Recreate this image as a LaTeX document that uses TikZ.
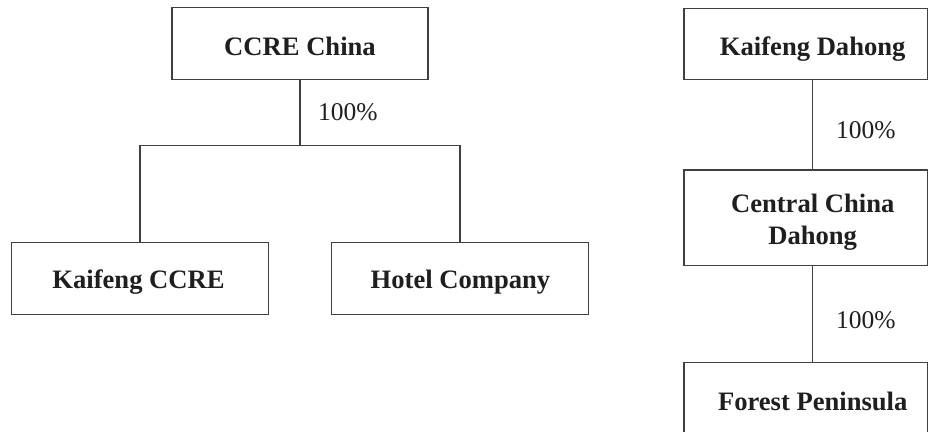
\documentclass[tikz,border=0pt]{standalone}
\usepackage{fontspec}
\setmainfont{Liberation Serif}
\begin{document}
\begin{tikzpicture}[x=1pt,y=-1pt,
  box/.style={draw=black!75, line width=1.1pt, rectangle, inner sep=0pt},
  bt/.style={font=\fontsize{26.6}{31.7}\selectfont\bfseries, text=black!88, align=center, inner sep=0pt},
  pct/.style={font=\fontsize{25.5}{30}\selectfont, text=black!88, anchor=base west, inner sep=0pt},
  link/.style={draw=black!75, line width=1.1pt}]
\useasboundingbox (0,0) rectangle (928,431);
\clip (0,0) rectangle (928,431);
\fill[white] (0,0) rectangle (928,431);

% left group
\node[box, minimum width=256, minimum height=72] (ccre) at (300,43.5) {};
\node[bt, anchor=base] (ccret) at (300,55) {CCRE China};
\node[box, minimum width=256.6, minimum height=71.7] (kccre) at (140,278.2) {};
\node[bt, anchor=base] (kccret) at (138.5,288) {Kaifeng CCRE};
\node[box, minimum width=256.6, minimum height=71.7] (hotel) at (460,278.2) {};
\node[bt, anchor=base] (hotelt) at (460.5,288) {Hotel Company};
\coordinate (j) at (300,145.7);
\draw[link] (ccre.south) -- (j);
\draw[link] (kccre.north) |- (j) -| (hotel.north);
\node[pct] (p1) at (318,120) {100\%};

% right group
\node[box, minimum width=243.5, minimum height=71] (kd) at (805.75,43.8) {};
\node[bt, anchor=base] (kdt) at (812.7,55) {Kaifeng Dahong};
\node[box, minimum width=243.5, minimum height=95.7] (cc) at (805.75,217.85) {};
\node[bt] (cct) at (812.7,222.5) {Central China\\Dahong};
\node[box, minimum width=243.5, minimum height=97.7] (fp) at (805.75,411.15) {};
\node[bt, anchor=base] (fpt) at (812.7,410) {Forest Peninsula};
\draw[link] (kdt |- kd.south) -- (kdt |- cc.north);
\draw[link] (kdt |- cc.south) -- (kdt |- fp.north);
\node[pct] (p2) at (836,138.3) {100\%};
\node[pct] (p3) at (836,328.3) {100\%};
\end{tikzpicture}
\end{document}
